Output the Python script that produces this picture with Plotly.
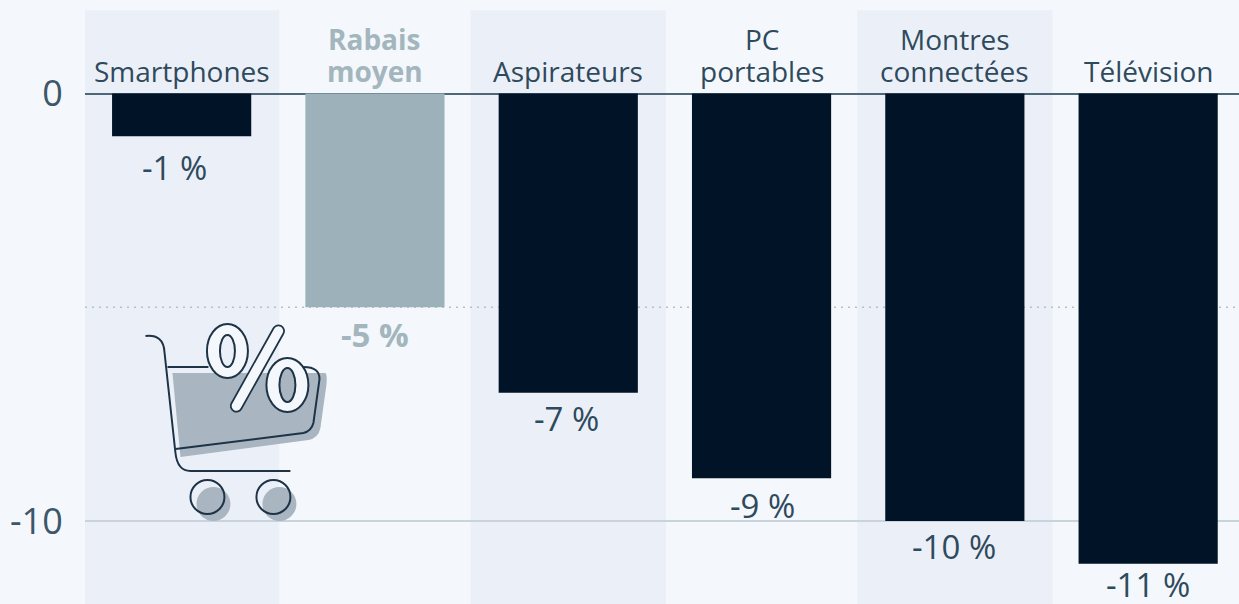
import base64
import plotly.graph_objects as go

categories = ["Smartphones", "Rabais<br>moyen", "Aspirateurs", "PC<br>portables", "Montres<br>connectées", "Télévision"]
values = [-1, -5, -7, -9, -10, -11]
value_labels = ["-1 %", "-5 %", "-7 %", "-9 %", "-10 %", "-11 %"]
band_indices = [0, 2, 4]
tick_vals = [0, -10]
tick_text = ["0", "-10"]

BG = "#f4f8fc"
BAND = "#ebf0f8"
DARK = "#001327"
MUTED = "#9cb1b9"
TEXT = "#2f4a5c"
W, H = 1239, 604
L = 84.5
LABEL_GAPS = [31, 27, 26, 27, 25, 21]
LABEL_XSHIFTS = [-7, 0, -2, 1, -1, 0]
X_RANGE = [-0.5, 5.47]

colors = [MUTED if "Rabais" in c else DARK for c in categories]
label_colors = ["#a3b6bd" if "Rabais" in c else TEXT for c in categories]
x = list(range(len(categories)))

fig = go.Figure()
fig.add_bar(x=x, y=values, width=0.72, marker=dict(color=colors, line=dict(width=0)),
            hoverinfo="skip", showlegend=False)

annotations = []
for i, (c, v, t, col) in enumerate(zip(categories, values, value_labels, label_colors)):
    bold = "Rabais" in c
    for n, line in enumerate(reversed(c.split("<br>"))):
        annotations.append(dict(x=i, y=0, yref="y", xref="x", yanchor="middle", yshift=23 + 32 * n,
                                showarrow=False, text=f"<b>{line}</b>" if bold else line,
                                font=dict(family="Open Sans", size=28, color=col if bold else TEXT)))
    annotations.append(dict(x=i, y=v, yref="y", xref="x", yanchor="middle", yshift=-LABEL_GAPS[i],
                            xshift=LABEL_XSHIFTS[i], showarrow=False,
                            text=f"<b>{t}</b>" if bold else t,
                            font=dict(family="Open Sans", size=33, color=col)))

shapes = [dict(type="rect", xref="x", yref="y", x0=i - 0.505, x1=i + 0.505, y0=-11.94, y1=1.95,
               fillcolor=BAND, line_width=0, layer="below") for i in band_indices]
shapes.append(dict(type="line", xref="x", yref="y", x0=X_RANGE[0], x1=X_RANGE[1], y0=-5, y1=-5,
                   line=dict(color="#b4c1ca", width=1.5, dash="2px,5px"), layer="below"))

# Decorative shopping-cart icon (pixel geometry inside its own SVG)
ink = "#1f3346"
fill = "#a9b5c0"
svg = f'''<svg xmlns="http://www.w3.org/2000/svg" width="200" height="220" viewBox="140 310 200 220">
<path d="M172 373 L325 373 Q327 375 326 385 L320 428 Q318 438 308 440 L180 457 Z" fill="{fill}"/>
<circle cx="213" cy="504" r="17" fill="{fill}"/><circle cx="279" cy="504" r="17" fill="{fill}"/>
<path d="M145 336 Q163 334 164 352 L175 453 Q177 471 190 471 L290 471" fill="none" stroke="{ink}" stroke-width="2"/>
<path d="M167 367 L208 367 M280 367 L303 367 Q320 367 319 380 L313 423 Q311 431 303 433 L175 449" fill="none" stroke="{ink}" stroke-width="2"/>
<circle cx="207" cy="497" r="17" fill="none" stroke="{ink}" stroke-width="2"/>
<circle cx="273" cy="497" r="17" fill="none" stroke="{ink}" stroke-width="2"/>
<ellipse cx="227" cy="351" rx="20.5" ry="27" fill="{BG}" stroke="{ink}" stroke-width="2"/>
<ellipse cx="227" cy="351" rx="7.5" ry="16" fill="{BAND}" stroke="{ink}" stroke-width="2"/>
<ellipse cx="287" cy="385" rx="21" ry="27" fill="{BG}" stroke="{ink}" stroke-width="2"/>
<ellipse cx="287" cy="385" rx="8" ry="17" fill="{fill}" stroke="{ink}" stroke-width="2"/>
<line x1="278" y1="331" x2="236" y2="406" stroke="{ink}" stroke-width="13" stroke-linecap="round"/>
<line x1="278" y1="331" x2="236" y2="406" stroke="{BG}" stroke-width="9.5" stroke-linecap="round"/>
</svg>'''
uri = "data:image/svg+xml;base64," + base64.b64encode(svg.encode()).decode()
plot_w = W - L
images = [dict(source=uri, xref="paper", yref="paper", xanchor="left", yanchor="top",
               x=(140 - L) / plot_w, y=1 - 310 / H, sizex=200 / plot_w, sizey=220 / H,
               sizing="stretch", layer="above")]

fig.update_layout(
    width=W, height=H, autosize=False,
    margin=dict(l=L, r=0, t=0, b=0, pad=0),
    paper_bgcolor=BG, plot_bgcolor=BG, bargap=0.28,
    annotations=annotations, shapes=shapes, images=images, showlegend=False,
    font=dict(family="Open Sans"),
    xaxis=dict(range=X_RANGE, showgrid=False, zeroline=False, showticklabels=False, ticks="", fixedrange=True),
    yaxis=dict(range=[-11.94, 2.187], tickmode="array", tickvals=tick_vals, ticktext=tick_text,
               tickfont=dict(family="Open Sans", size=36, color="#3d5668"),
               ticks="outside", ticklen=14, tickcolor="rgba(0,0,0,0)", tickwidth=1,
               showgrid=True, gridcolor="#c8d3dc", gridwidth=1.5,
               zeroline=True, zerolinecolor="#4f6878", zerolinewidth=2, showline=False, fixedrange=True),
)
fig.write_html("out.html", config={"displayModeBar": False},
               post_script=f"document.body.style.margin='0';document.body.style.overflow='hidden';document.body.style.background='{BG}';")
